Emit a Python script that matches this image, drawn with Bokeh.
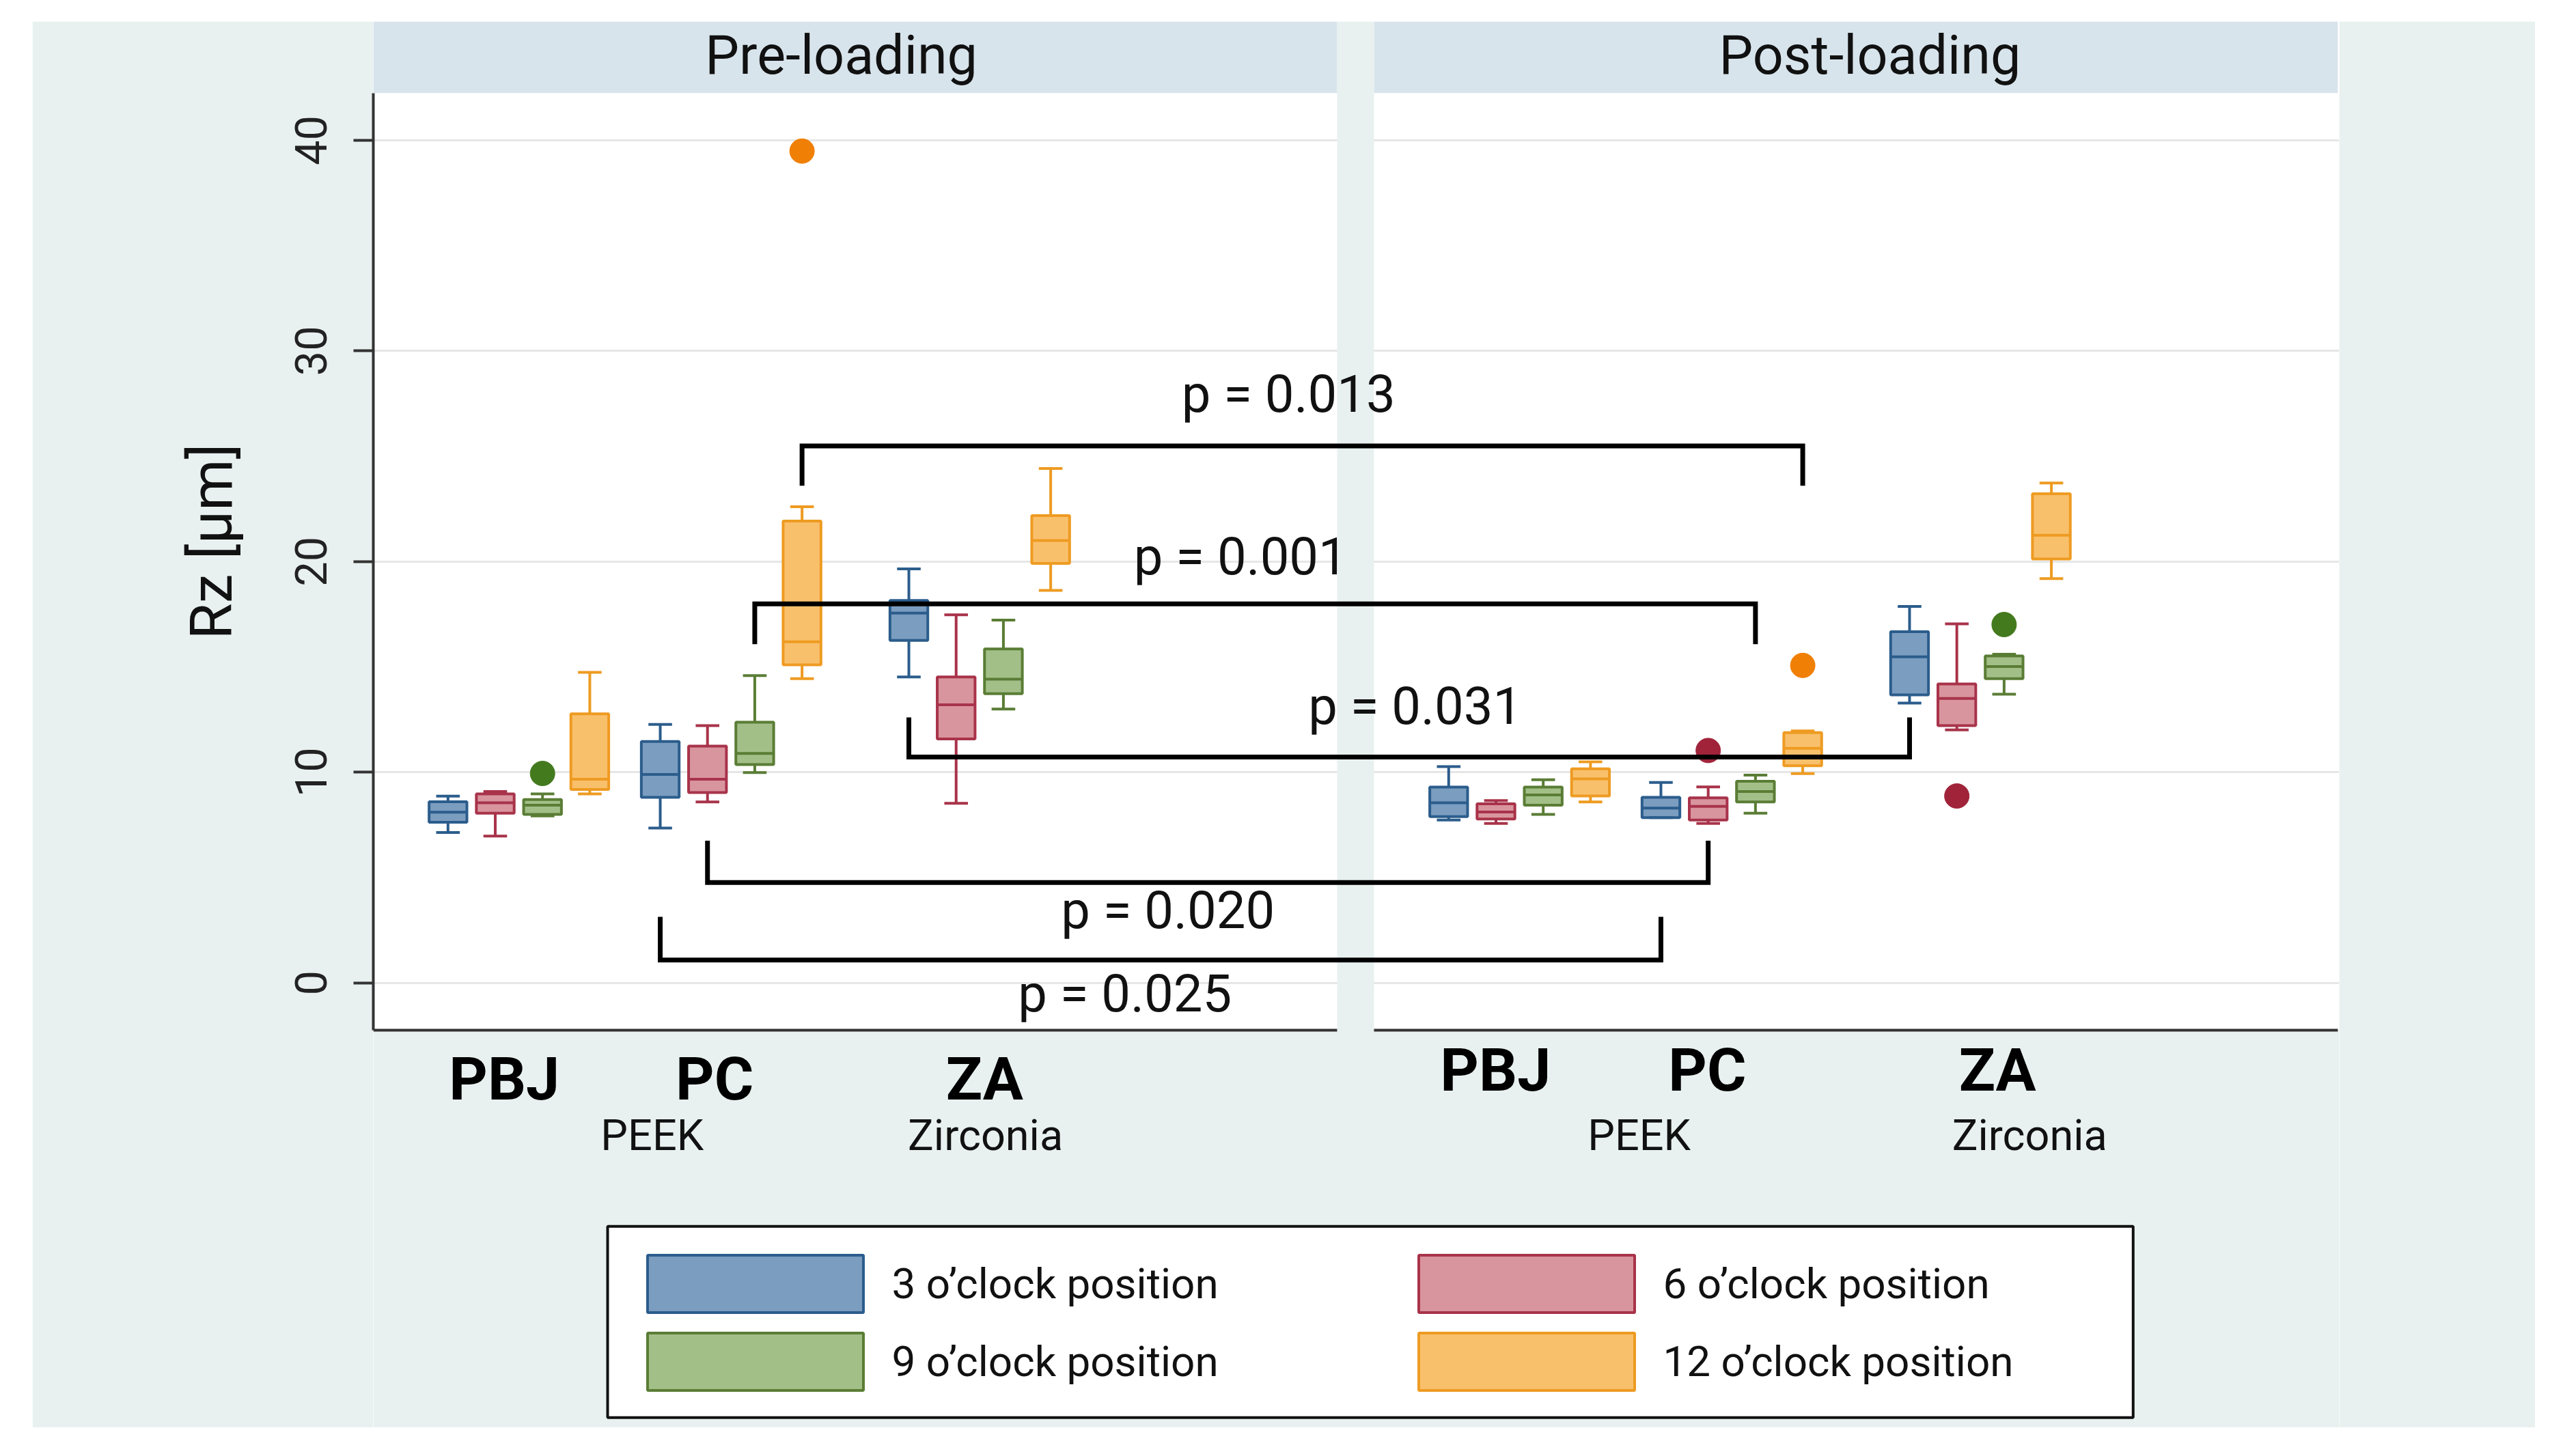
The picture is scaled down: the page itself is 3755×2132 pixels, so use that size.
from bokeh.plotting import figure
from bokeh.models import Range1d, FixedTicker, Legend, LegendItem, Title, Spacer
from bokeh.layouts import column, row
from bokeh.core.properties import value
from bokeh.embed import file_html
from bokeh.resources import INLINE

# ---------------- data ----------------
phases = ["Pre-loading", "Post-loading"]
abutments = ["PBJ", "PC", "ZA"]
materials = ["PEEK", "Zirconia"]
positions = ["3 o\u2019clock position", "6 o\u2019clock position",
             "9 o\u2019clock position", "12 o\u2019clock position"]

# order: phase -> abutment (PBJ, PC, ZA) -> position (3, 6, 9, 12)
whisker_low = [7.14, 6.97, 7.92, 8.97,   7.35, 8.59, 9.98, 14.44,   14.52, 8.52, 13.00, 18.63,
               7.73, 7.57, 8.00, 8.59,   7.84, 7.57, 8.05, 9.93,    13.28, 12.01, 13.70, 19.19]
box_q1 = [7.62, 8.05, 8.00, 9.18,   8.81, 9.03, 10.36, 15.10,   16.26, 11.58, 13.73, 19.91,
          7.89, 7.78, 8.43, 8.87,   7.84, 7.73, 8.59, 10.31,    13.67, 12.21, 14.44, 20.12]
box_median = [8.10, 8.55, 8.43, 9.67,   9.89, 9.67, 10.89, 16.19,   17.55, 13.20, 14.42, 21.00,
              8.55, 8.11, 8.92, 9.68,   8.30, 8.38, 9.08, 11.13,    15.48, 13.50, 15.02, 21.25]
box_q3 = [8.60, 8.97, 8.70, 12.77,   11.46, 11.24, 12.37, 21.92,   18.15, 14.52, 15.85, 22.18,
          9.29, 8.50, 9.29, 10.16,   8.81, 8.78, 9.57, 11.88,      16.67, 14.19, 15.52, 23.22]
whisker_high = [8.86, 9.08, 8.97, 14.74,   12.27, 12.21, 14.59, 22.60,   19.65, 17.47, 17.22, 24.42,
                10.27, 8.65, 9.64, 10.49,  9.51, 9.30, 9.86, 11.96,      17.87, 17.04, 15.60, 23.73]

outlier_phase = [0, 0, 1, 1, 1, 1]
outlier_abutment = [0, 1, 1, 1, 2, 2]
outlier_position = [2, 3, 1, 3, 1, 2]
outlier_value = [9.94, 39.49, 11.03, 15.07, 8.87, 17.01]

# pre- vs post-loading comparisons (same abutment and position)
comparison_abutment = [1, 1, 2, 1, 1]
comparison_position = [3, 2, 0, 1, 0]
p_values = ["0.013", "0.001", "0.031", "0.020", "0.025"]

y_ticks = [0, 10, 20, 30, 40]

# ---------------- layout / style ----------------
FONT = "Roboto"
TEAL = "#e8f1ef"
HEADER = "#d8e4ec"
AXIS_COL = "#333333"
line_colors = ["#2b5d8c", "#a8334a", "#5a7d35", "#ee9b22"]
fill_colors = ["#7b9dc0", "#d9959e", "#a3bf88", "#f9c06c"]
dot_colors = ["#2b5d8c", "#a0233a", "#437a1e", "#f07f05"]
BOX_LW = 4

X_MAX = 41.59
PANEL_W = 20.39
PANEL_X0 = [0.0, 21.17]
GROUP_DX = [1.58, 6.07, 11.33]
BOX_W = 0.8
CAP_W = 0.5
Y_TOP = 45.64
HEADER_Y0 = 42.24
AXIS_Y = -2.25
Y_BOTTOM = -21.12
PX_PER_Y = 30.84


def lift(font_px):
    # baseline compensation for the text glyph, in data units
    return 0.37 * font_px / PX_PER_Y


header_label_x = [9.90, 10.49]
abut_label_x = [[2.77, 7.22, 12.93], [2.57, 7.05, 13.19]]
abut_label_y = [-5.62, -5.17]
material_label_x = [[5.90, 12.95], [5.61, 13.87]]
material_label_y = -7.99

bracket_bar_y = [25.49, 17.99, 10.72, 4.76, 1.08]
bracket_tip_y = [23.60, 16.08, 12.60, 6.75, 3.13]
p_label_x = [19.36, 18.35, 22.04, 16.81, 15.90]
p_label_y = [27.04, 19.33, 12.21, 2.53, -1.44]


def box_x(ph, ab, k):
    return PANEL_X0[ph] + GROUP_DX[ab] + k


def idx(ph, ab, k):
    return ph * 12 + ab * 4 + k


p = figure(width=3664, height=2059,
           x_range=Range1d(0, X_MAX), y_range=Range1d(Y_BOTTOM, Y_TOP),
           output_backend="svg", toolbar_location=None,
           min_border_left=499, min_border_right=287,
           min_border_top=0, min_border_bottom=0,
           background_fill_color="white", border_fill_color=TEAL,
           outline_line_color=None)

p.xaxis.visible = False
p.xgrid.visible = False
p.ygrid.ticker = FixedTicker(ticks=y_ticks)
p.ygrid.grid_line_color = "#e6e6e6"
p.ygrid.grid_line_width = 3

yax = p.yaxis[0]
yax.ticker = FixedTicker(ticks=y_ticks)
yax.bounds = (AXIS_Y, HEADER_Y0)
yax.axis_line_color = AXIS_COL
yax.axis_line_width = 4
yax.major_tick_line_color = AXIS_COL
yax.major_tick_line_width = 4
yax.major_tick_out = 29
yax.major_tick_in = 0
yax.minor_tick_line_color = None
yax.major_label_orientation = "vertical"
yax.major_label_standoff = 39
yax.major_label_text_font = FONT
yax.major_label_text_font_size = "65px"
yax.major_label_text_color = "#222222"

p.add_layout(Title(text="Rz [\u00b5m]", align="right", offset=618,
                   vertical_align="bottom", standoff=140,
                   text_font=FONT, text_font_size="86px",
                   text_font_style="normal", text_color="#111111"), "left")

# background regions: gap between panels, area below the axes, headers
p.quad(left=[PANEL_W], right=[PANEL_X0[1]], bottom=[Y_BOTTOM], top=[Y_TOP],
       fill_color=TEAL, line_color=None)
p.quad(left=[0], right=[X_MAX], bottom=[Y_BOTTOM], top=[AXIS_Y],
       fill_color=TEAL, line_color=None)
p.quad(left=PANEL_X0, right=[x0 + PANEL_W for x0 in PANEL_X0],
       bottom=[HEADER_Y0] * 2, top=[Y_TOP] * 2, fill_color=HEADER, line_color=None)
p.text(x=[PANEL_X0[0] + header_label_x[0], PANEL_X0[1] + header_label_x[1]],
       y=[HEADER_Y0 + 0.25 * (Y_TOP - HEADER_Y0) + lift(79)] * 2, text=phases,
       text_font=value(FONT), text_font_size=value("79px"),
       text_align="center", text_baseline="alphabetic", text_color="#111111")

# boxes
box_renderers = []
for k in range(4):
    xs, lo, q1, md, q3, hi = [], [], [], [], [], []
    for ph in range(2):
        for ab in range(3):
            i = idx(ph, ab, k)
            xs.append(box_x(ph, ab, k))
            lo.append(whisker_low[i]); q1.append(box_q1[i]); md.append(box_median[i])
            q3.append(box_q3[i]); hi.append(whisker_high[i])
    lc = line_colors[k]
    p.segment(x0=xs, y0=q3, x1=xs, y1=hi, line_color=lc, line_width=BOX_LW)
    p.segment(x0=xs, y0=q1, x1=xs, y1=lo, line_color=lc, line_width=BOX_LW)
    r = p.vbar(x=xs, width=BOX_W, bottom=q1, top=q3, fill_color=fill_colors[k],
               line_color=lc, line_width=BOX_LW)
    box_renderers.append(r)
    p.segment(x0=[x - BOX_W / 2 for x in xs], x1=[x + BOX_W / 2 for x in xs],
              y0=md, y1=md, line_color=lc, line_width=BOX_LW)
    p.segment(x0=[x - CAP_W / 2 for x in xs], x1=[x + CAP_W / 2 for x in xs],
              y0=hi, y1=hi, line_color=lc, line_width=BOX_LW)
    p.segment(x0=[x - CAP_W / 2 for x in xs], x1=[x + CAP_W / 2 for x in xs],
              y0=lo, y1=lo, line_color=lc, line_width=BOX_LW)

# outliers
p.scatter(x=[box_x(ph, ab, k) for ph, ab, k in zip(outlier_phase, outlier_abutment, outlier_position)],
          y=outlier_value, size=36, marker="circle",
          fill_color=[dot_colors[k] for k in outlier_position],
          line_color=[dot_colors[k] for k in outlier_position])

# x axis lines of each panel
p.segment(x0=PANEL_X0, x1=[x0 + PANEL_W for x0 in PANEL_X0], y0=[AXIS_Y] * 2, y1=[AXIS_Y] * 2,
          line_color=AXIS_COL, line_width=4)

# significance brackets
bx, by = [], []
for ab, k, bar, tip in zip(comparison_abutment, comparison_position, bracket_bar_y, bracket_tip_y):
    xa = box_x(0, ab, k)
    xb = box_x(1, ab, k)
    bx.append([xa, xa, xb, xb])
    by.append([tip, bar, bar, tip])
p.multi_line(xs=bx, ys=by, line_color="black", line_width=7, line_join="miter")
p.text(x=p_label_x, y=[y + lift(76) for y in p_label_y], text=["p = " + v for v in p_values],
       text_font=value(FONT), text_font_size=value("76px"),
       text_align="center", text_baseline="alphabetic", text_color="#111111")

# category labels
for ph in range(2):
    p.text(x=[PANEL_X0[ph] + dx for dx in abut_label_x[ph]],
           y=[abut_label_y[ph] + lift(88)] * 3,
           text=abutments, text_font=value(FONT), text_font_size=value("88px"),
           text_font_style="bold", text_align="center", text_baseline="alphabetic",
           text_color="#000000")
    p.text(x=[PANEL_X0[ph] + dx for dx in material_label_x[ph]],
           y=[material_label_y + lift(63)] * 2,
           text=materials, text_font=value(FONT), text_font_size=value("63px"),
           text_align="center", text_baseline="alphabetic", text_color="#111111")

# legend frame and legend
p.quad(left=[4.957], right=[37.23], top=[-11.56], bottom=[-20.64],
       fill_color="white", line_color="#111111", line_width=4)
legend = Legend(items=[LegendItem(label=positions[k], renderers=[box_renderers[k]]) for k in range(4)],
                location=(361.5, 44.5), orientation="horizontal", ncols=2,
                glyph_width=395, glyph_height=105, label_standoff=3, spacing=9,
                label_width=722, padding=0, margin=0,
                border_line_color=None, background_fill_alpha=0,
                label_text_font=FONT, label_text_font_size="62px",
                label_text_color="#111111")
p.add_layout(legend, "center")

layout = column(Spacer(height=31), row(Spacer(width=47), p))
open("out.html", "w").write(file_html(layout, INLINE))
